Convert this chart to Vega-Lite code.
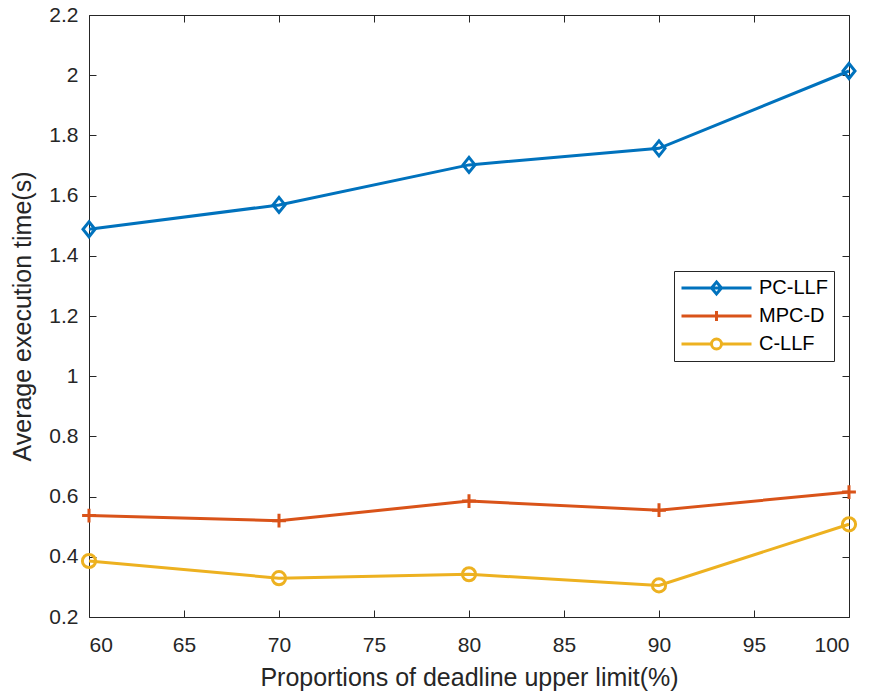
{
  "$schema": "https://vega.github.io/schema/vega-lite/v6.json",
  "width": 760,
  "height": 602,
  "autosize": {"type": "none"},
  "padding": {"left": 89, "top": 15, "right": 22, "bottom": 78},
  "background": "white",
  "config": {
    "font": "Liberation Sans",
    "view": {"stroke": null},
    "axis": {
      "domainColor": "#262626",
      "tickColor": "#262626",
      "labelColor": "#262626",
      "titleColor": "#262626",
      "labelFont": "Liberation Sans",
      "titleFont": "Liberation Sans",
      "labelFontSize": 21,
      "titleFontSize": 25,
      "titleFontWeight": "normal",
      "grid": false,
      "tickSize": -7,
      "domainWidth": 1,
      "tickWidth": 1
    }
  },
  "data": {
    "values": [
      {"x": 60, "y": 1.488, "s": "PC-LLF"},
      {"x": 70, "y": 1.569, "s": "PC-LLF"},
      {"x": 80, "y": 1.702, "s": "PC-LLF"},
      {"x": 90, "y": 1.757, "s": "PC-LLF"},
      {"x": 100, "y": 2.014, "s": "PC-LLF"},
      {"x": 60, "y": 0.537, "s": "MPC-D"},
      {"x": 70, "y": 0.52, "s": "MPC-D"},
      {"x": 80, "y": 0.585, "s": "MPC-D"},
      {"x": 90, "y": 0.555, "s": "MPC-D"},
      {"x": 100, "y": 0.615, "s": "MPC-D"},
      {"x": 60, "y": 0.386, "s": "C-LLF"},
      {"x": 70, "y": 0.329, "s": "C-LLF"},
      {"x": 80, "y": 0.342, "s": "C-LLF"},
      {"x": 90, "y": 0.305, "s": "C-LLF"},
      {"x": 100, "y": 0.508, "s": "C-LLF"}
    ]
  },
  "resolve": {
    "scale": {"shape": "independent", "color": "independent"},
    "axis": {"x": "independent", "y": "independent"}
  },
  "layer": [
    {
      "mark": {"type": "line", "strokeWidth": 3},
      "encoding": {
        "x": {
          "field": "x", "type": "quantitative",
          "scale": {"domain": [60, 100], "nice": false, "zero": false},
          "axis": {
            "values": [60, 65, 70, 75, 80, 85, 90, 95, 100],
            "title": "Proportions of deadline upper limit(%)",
            "labelPadding": 24,
            "titlePadding": 10
          }
        },
        "y": {
          "field": "y", "type": "quantitative",
          "scale": {"domain": [0.2, 2.2], "nice": false, "zero": false},
          "axis": {
            "values": [0.2, 0.4, 0.6, 0.8, 1, 1.2, 1.4, 1.6, 1.8, 2, 2.2],
            "format": "~g",
            "title": "Average execution time(s)",
            "labelPadding": 18,
            "titlePadding": 13
          }
        },
        "color": {
          "field": "s", "type": "nominal",
          "scale": {"domain": ["PC-LLF", "MPC-D", "C-LLF"], "range": ["#0072BD", "#D95319", "#EDB120"]},
          "legend": null
        }
      }
    },
    {
      "mark": {"type": "point", "filled": false, "strokeWidth": 3, "size": 144, "opacity": 1},
      "encoding": {
        "x": {
          "field": "x", "type": "quantitative",
          "scale": {"domain": [60, 100], "nice": false, "zero": false},
          "axis": {"orient": "top", "values": [60, 65, 70, 75, 80, 85, 90, 95, 100], "labels": false, "title": null}
        },
        "y": {
          "field": "y", "type": "quantitative",
          "scale": {"domain": [0.2, 2.2], "nice": false, "zero": false},
          "axis": {"orient": "right", "values": [0.2, 0.4, 0.6, 0.8, 1, 1.2, 1.4, 1.6, 1.8, 2, 2.2], "labels": false, "title": null}
        },
        "color": {
          "field": "s", "type": "nominal",
          "scale": {"domain": ["PC-LLF", "MPC-D", "C-LLF"], "range": ["#0072BD", "#D95319", "#EDB120"]},
          "legend": null
        },
        "shape": {
          "field": "s", "type": "nominal",
          "scale": {"domain": ["PC-LLF", "MPC-D", "C-LLF"], "range": [
            "M0,-1.25L1,0L0,1.25L-1,0Z",
            "M-1.15,0H1.15M0,-1.15V1.15",
            "M1.1,0A1.1,1.1,0,1,1,-1.1,0A1.1,1.1,0,1,1,1.1,0Z"
          ]},
          "legend": null
        }
      }
    },
    {
      "mark": {"type": "point", "filled": false, "opacity": 0},
      "encoding": {
        "x": {"field": "x", "type": "quantitative", "scale": {"domain": [60, 100], "nice": false, "zero": false}, "axis": null},
        "y": {"field": "y", "type": "quantitative", "scale": {"domain": [0.2, 2.2], "nice": false, "zero": false}, "axis": null},
        "color": {
          "field": "s", "type": "nominal",
          "scale": {"domain": ["PC-LLF", "MPC-D", "C-LLF"], "range": ["#0072BD", "#D95319", "#EDB120"]},
          "legend": {
            "title": null,
            "orient": "none",
            "legendX": 585,
            "legendY": 256,
            "strokeColor": "#262626",
            "fillColor": "white",
            "padding": 6,
            "symbolSize": 4900,
            "symbolStrokeWidth": 3,
            "symbolOpacity": 1,
            "symbolFillColor": "transparent",
            "clipHeight": 22,
            "rowPadding": 6,
            "labelFontSize": 20,
            "labelColor": "#000000",
            "labelOffset": 6,
            "labelFont": "Liberation Sans"
          }
        },
        "shape": {
          "field": "s", "type": "nominal",
          "scale": {"domain": ["PC-LLF", "MPC-D", "C-LLF"], "range": [
            "M-1,0H1M0,-0.171L0.143,0L0,0.171L-0.143,0Z",
            "M-1,0H1M0,-0.143V0.143",
            "M-1,0H-0.143M0.143,0H1M0.143,0A0.143,0.143,0,1,1,-0.143,0A0.143,0.143,0,1,1,0.143,0Z"
          ]}
        }
      }
    }
  ]
}
